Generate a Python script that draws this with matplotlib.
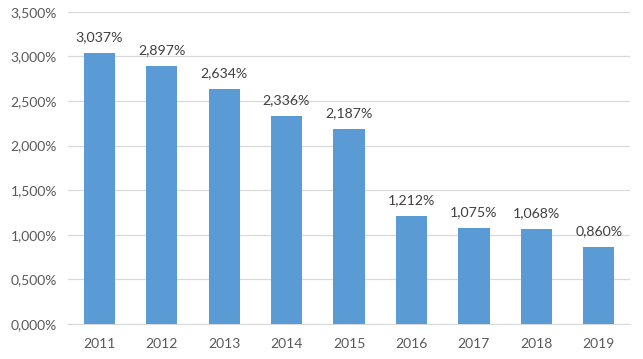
import matplotlib.pyplot as plt
from matplotlib.ticker import FuncFormatter, MultipleLocator

years = ["2011", "2012", "2013", "2014", "2015", "2016", "2017", "2018", "2019"]
values = [3.037, 2.897, 2.634, 2.336, 2.187, 1.212, 1.075, 1.068, 0.860]

plt.rcParams['font.family'] = ['Lato', 'DejaVu Sans']
text_color = '#595959'

fig = plt.figure(figsize=(6.43, 3.59), dpi=100)
ax = fig.add_axes([68/643, 1 - 324/359, (630-68)/643, (324-11.8)/359])

x = range(len(years))
ax.bar(x, values, width=0.5, color='#5B9BD5', zorder=3)
for xi, v in zip(x, values):
    ax.text(xi, v + 0.11, f"{v:.3f}%".replace('.', ','), ha='center', va='bottom',
            fontsize=10.2, color='#404040')

ax.set_xlim(-0.5, len(years) - 0.5)
ax.set_ylim(0, 3.5)
ax.yaxis.set_major_locator(MultipleLocator(0.5))
ax.yaxis.set_major_formatter(FuncFormatter(lambda v, p: f"{v:.3f}%".replace('.', ',')))
ax.set_xticks(list(x))
ax.set_xticklabels(years)
ax.grid(axis='y', color='#D9D9D9', linewidth=0.9, zorder=0)
for s in ['top', 'right', 'left']:
    ax.spines[s].set_visible(False)
ax.spines['bottom'].set_color('#D9D9D9')
ax.tick_params(axis='both', length=0, labelsize=10, colors=text_color, pad=8)
ax.tick_params(axis='x', pad=10)

fig.savefig('out.png', dpi=100)
